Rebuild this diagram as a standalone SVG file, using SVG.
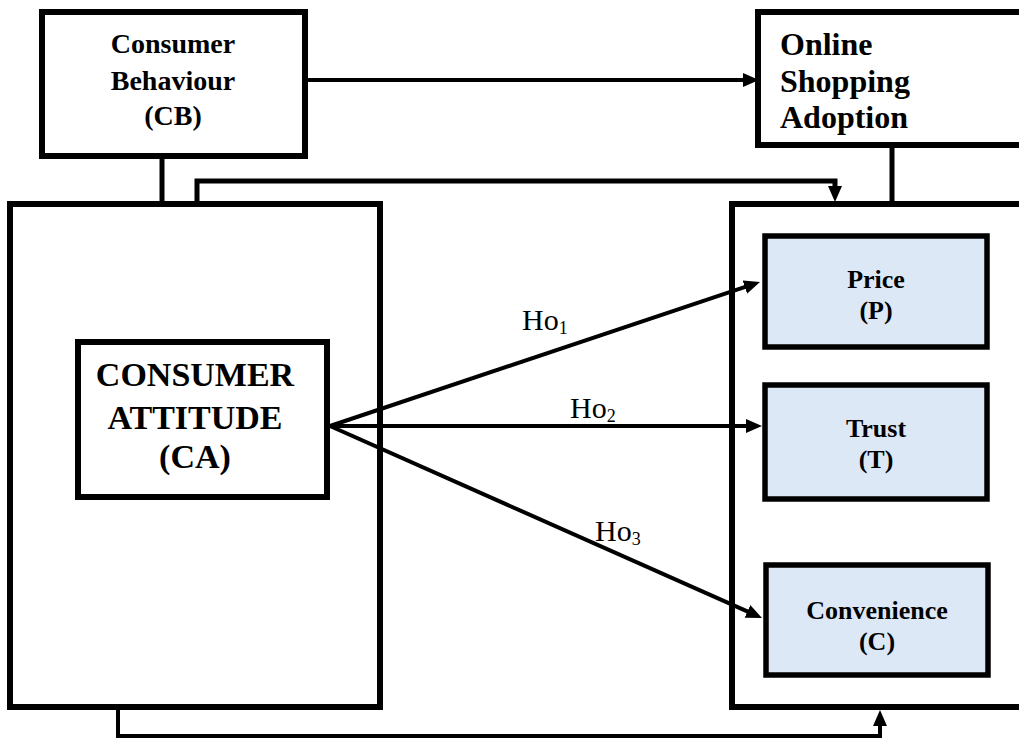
<svg xmlns="http://www.w3.org/2000/svg" width="1019" height="739" viewBox="0 0 1019 739">
<style>
.box{fill:#fff;stroke:#000;stroke-width:6}
.var{fill:#dce8f6;stroke:#000;stroke-width:5.5}
.t{font-family:"Liberation Serif","Times New Roman",serif;font-weight:bold;fill:#000}
.ho{font-family:"Liberation Serif","Times New Roman",serif;font-size:30px;fill:#000}
.c{fill:none;stroke:#000;stroke-width:4}
.e{fill:none;stroke:#000;stroke-width:5}
</style>
<defs>
<marker id="ah" viewBox="0 0 16 14" refX="6" refY="7" markerWidth="16" markerHeight="14" markerUnits="userSpaceOnUse" orient="auto">
<path d="M0,0 L16,7 L0,14 z" fill="#000"/>
</marker>
</defs>
<g id="connectors">
<line class="e" x1="162" y1="156" x2="162" y2="204"/>
<line class="e" x1="892" y1="145" x2="892" y2="204"/>
<line class="c" x1="305" y1="80" x2="749" y2="80" marker-end="url(#ah)"/>
<path class="e" d="M197,204 V181 H835 V192" marker-end="url(#ah)"/>
<path class="c" d="M118,707 V736 H880 V720" marker-end="url(#ah)"/>
</g>
<g id="consumer-behaviour">
<rect class="box" x="42" y="12" width="263" height="144"/>
<text class="t" font-size="28" text-anchor="middle" x="173" y="53">Consumer</text>
<text class="t" font-size="28" text-anchor="middle" x="173" y="90">Behaviour</text>
<text class="t" font-size="28" text-anchor="middle" x="173" y="125">(CB)</text>
</g>
<g id="online-shopping-adoption">
<rect class="box" x="758" y="12" width="270" height="133"/>
<text class="t" font-size="32" x="780" y="55">Online</text>
<text class="t" font-size="32" x="780" y="92">Shopping</text>
<text class="t" font-size="32" x="780" y="128">Adoption</text>
</g>
<g id="left-frame">
<rect class="box" x="10" y="204" width="370" height="503"/>
</g>
<g id="right-frame">
<rect class="box" x="732" y="204" width="300" height="503"/>
</g>
<g id="consumer-attitude">
<rect class="box" x="78" y="342" width="249" height="155"/>
<text class="t" font-size="34" text-anchor="middle" x="195" y="386">CONSUMER</text>
<text class="t" font-size="34" text-anchor="middle" x="195" y="429">ATTITUDE</text>
<text class="t" font-size="34" text-anchor="middle" x="195" y="468">(CA)</text>
</g>
<g id="price">
<rect class="var" x="765" y="236" width="222" height="111"/>
<text class="t" font-size="26" text-anchor="middle" x="876" y="288">Price</text>
<text class="t" font-size="26" text-anchor="middle" x="876" y="319">(P)</text>
</g>
<g id="trust">
<rect class="var" x="765" y="385" width="222" height="114"/>
<text class="t" font-size="26" text-anchor="middle" x="876" y="437">Trust</text>
<text class="t" font-size="26" text-anchor="middle" x="876" y="468">(T)</text>
</g>
<g id="convenience">
<rect class="var" x="766" y="565" width="222" height="110"/>
<text class="t" font-size="26" text-anchor="middle" x="877" y="619">Convenience</text>
<text class="t" font-size="26" text-anchor="middle" x="877" y="650">(C)</text>
</g>
<g id="hypotheses">
<line class="c" x1="330" y1="426" x2="750.5" y2="285.2" marker-end="url(#ah)"/>
<line class="c" x1="330" y1="426" x2="752" y2="426" marker-end="url(#ah)"/>
<line class="c" x1="330" y1="426" x2="752.9" y2="613.9" marker-end="url(#ah)"/>
<text class="ho" x="522" y="330">Ho<tspan font-size="18" dy="4">1</tspan></text>
<text class="ho" x="570" y="418">Ho<tspan font-size="18" dy="4">2</tspan></text>
<text class="ho" x="595" y="541">Ho<tspan font-size="18" dy="4">3</tspan></text>
</g>
</svg>
